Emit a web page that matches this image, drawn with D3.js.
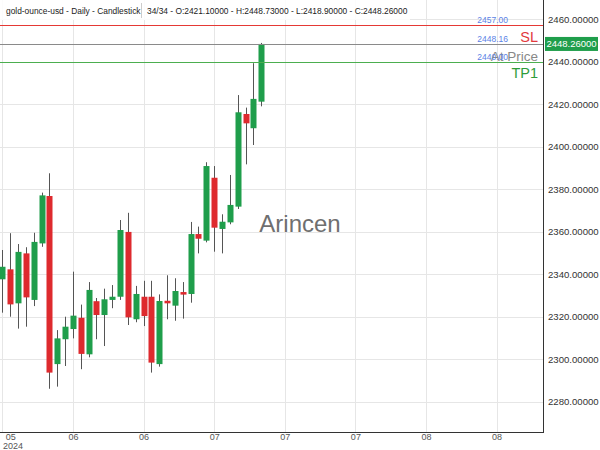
<!DOCTYPE html>
<html><head><meta charset="utf-8">
<script src="https://cdn.jsdelivr.net/npm/d3@7"></script>
<style>
html,body{margin:0;padding:0;background:#fff;}
svg{display:block;font-family:"Liberation Sans",Arial,sans-serif;}
</style></head>
<body><svg id="c" width="600" height="450"></svg>
<script>
const opens  = [2337.5,2342.2,2326.2,2349.7,2327.8,2354.4,2376.7,2297.6,2309.3,2314.1,2319.4,2302.2,2327.2,2320.7,2327.8,2329.3,2359.8,2318.7,2329.3,2329.3,2297.6,2327.4,2325.1,2331.5,2330.6,2358.8,2355.7,2385.3,2361.2,2364.3,2371.7,2415.3,2408.6,2421.1];
const highs  = [2351.3,2359.2,2354.1,2352.6,2359.4,2378.3,2387.4,2313.6,2319.9,2341.1,2325.6,2336.2,2328.7,2333.1,2334.8,2365.4,2368.8,2334.4,2336.8,2336.8,2330.4,2339.4,2338.0,2336.2,2364.5,2362.3,2392.6,2390.8,2368.1,2386.6,2424.2,2418.3,2439.2,2448.73];
const lows   = [2321.8,2319.9,2314.3,2315.2,2324.9,2352.8,2286.0,2287.0,2296.7,2309.7,2295.2,2300.8,2309.3,2306.1,2323.9,2327.8,2316.0,2317.3,2315.5,2293.6,2296.4,2318.7,2318.0,2319.0,2326.5,2349.7,2354.9,2350.5,2349.7,2363.4,2370.6,2391.6,2400.7,2418.9];
const closes = [2343.4,2325.7,2350.4,2329.0,2355.1,2377.0,2293.6,2309.7,2315.2,2320.4,2302.4,2332.5,2320.7,2328.1,2329.3,2360.7,2319.6,2330.6,2320.2,2298.3,2327.3,2326.2,2332.0,2330.3,2358.8,2356.6,2390.8,2361.8,2364.6,2372.5,2416.1,2410.9,2422.4,2448.26];
const xTickIndex  = [0,9,18,27,36,45,54,63];
const xTickLabels = ["05","06","06","07","07","07","08","08"];
const yearLabel = "2024";
const yTicks = [2280,2300,2320,2340,2360,2380,2400,2420,2440,2460];
const levelNames  = ["SL","At Price","TP1"];
const levelValues = [2457.00,2448.16,2440.00];
const lastPrice = 2448.26;
const title1 = "gold-ounce-usd - Daily - Candlestick";
const title2 = "34/34 - O:2421.10000 - H:2448.73000 - L:2418.90000 - C:2448.26000";
const watermark = "Arincen";

const data = opens.map((o,i)=>({i,o,h:highs[i],l:lows[i],c:closes[i]}));
const W = 543, H = 432;
const svg = d3.select("#c");
const x = d3.scaleLinear().domain([0,63]).range([2.3,496.6]);
const y = d3.scaleLinear().domain([2280,2460]).range([401.5,19]);

svg.append("defs").append("clipPath").attr("id","clip").append("rect").attr("x",0).attr("y",0).attr("width",W).attr("height",H);

// grid
const grid = svg.append("g").attr("clip-path","url(#clip)");
grid.selectAll("line.v").data(xTickIndex).join("line")
  .attr("x1",d=>Math.round(x(d))+0.5).attr("x2",d=>Math.round(x(d))+0.5).attr("y1",0).attr("y2",H)
  .attr("stroke","#e6e6e6").attr("stroke-width",1);
grid.selectAll("line.h").data(yTicks).join("line").attr("class","h")
  .attr("x1",0).attr("x2",W).attr("y1",d=>Math.round(y(d))+0.5).attr("y2",d=>Math.round(y(d))+0.5)
  .attr("stroke","#e6e6e6").attr("stroke-width",1);

// watermark
svg.append("text").attr("x",300).attr("y",232).attr("text-anchor","middle")
  .attr("font-size",24).attr("fill","#6f6f6f").text(watermark);

// candles
const green="#1f9e4b", red="#de2a2e";
const cg = svg.append("g").attr("clip-path","url(#clip)");
cg.selectAll("line.w").data(data).join("line")
  .attr("x1",d=>Math.round(x(d.i))+0.5).attr("x2",d=>Math.round(x(d.i))+0.5)
  .attr("y1",d=>y(d.h)).attr("y2",d=>y(d.l)).attr("stroke","#555").attr("stroke-width",1);
cg.selectAll("rect.b").data(data).join("rect")
  .attr("x",d=>Math.round(x(d.i))-2.5).attr("width",6)
  .attr("y",d=>y(Math.max(d.o,d.c)))
  .attr("height",d=>Math.max(1.5,Math.abs(y(d.o)-y(d.c))))
  .attr("fill",d=>d.c>=d.o?green:red);

// level lines
const lvlColors=["#e53935","#8a8a8a","#4cae4f"];
const lvlTextColors=["#e2393d","#888888","#2e9c3a"];
const lvlSizes=[14.5,13.5,14.5];
const lvlOffsets=[16.5,16.5,15.5];
const lg = svg.append("g");
levelValues.forEach((v,k)=>{
  const yy = Math.round(y(v))+0.5;
  lg.append("line").attr("x1",0).attr("x2",W).attr("y1",yy).attr("y2",yy)
    .attr("stroke",lvlColors[k]).attr("stroke-width",1);
  lg.append("text").attr("x",508).attr("y",yy-3).attr("text-anchor","end")
    .attr("font-size",8.5).attr("fill","#5b82e6").text(v.toFixed(2));
  lg.append("text").attr("x",538).attr("y",yy+lvlOffsets[k]).attr("text-anchor","end")
    .attr("font-size",lvlSizes[k]).attr("fill",lvlTextColors[k]).text(levelNames[k]);
});

// axes
const ya = svg.append("g").attr("transform",`translate(${W},0)`)
  .call(d3.axisRight(y).tickValues(yTicks).tickFormat(d3.format(".5f")).tickSize(0).tickPadding(5));
ya.select(".domain").remove();
ya.selectAll("text").attr("font-size",9.6).attr("fill","#333").attr("font-family","Liberation Sans,Arial,sans-serif");
svg.append("line").attr("x1",W+0.5).attr("x2",W+0.5).attr("y1",0).attr("y2",H).attr("stroke","#333");

const xa = svg.append("g").attr("transform",`translate(0,${H})`)
  .call(d3.axisBottom(x).tickValues(xTickIndex).tickFormat((d,i)=>xTickLabels[i]).tickSize(0).tickPadding(2));
xa.select(".domain").remove();
xa.selectAll("text").attr("font-size",9).attr("fill","#555").attr("font-family","Liberation Sans,Arial,sans-serif")
  .attr("dx",(d,i)=>i===0?8:0);
svg.append("line").attr("x1",0).attr("x2",W+1).attr("y1",H+0.5).attr("y2",H+0.5).attr("stroke","#333");
svg.append("text").attr("x",3).attr("y",449).attr("font-size",9).attr("fill","#555").text(yearLabel);

// price tag
const py = y(lastPrice);
svg.append("rect").attr("x",545).attr("y",py-7).attr("width",53).attr("height",14).attr("fill",green);
svg.append("text").attr("x",571.5).attr("y",py+3.5).attr("text-anchor","middle").attr("font-size",9.5)
  .attr("fill","#fff").text(lastPrice.toFixed(5));

// header
svg.append("rect").attr("x",0).attr("y",0).attr("width",410).attr("height",20).attr("fill","#fff").attr("fill-opacity",0.85);
svg.append("text").attr("x",6).attr("y",13.5).attr("font-size",8.4).attr("fill","#222").text(title1);
svg.append("line").attr("x1",141.5).attr("x2",141.5).attr("y1",3).attr("y2",18).attr("stroke","#ccc");
svg.append("text").attr("x",147).attr("y",13.5).attr("font-size",8.4).attr("fill","#222").text(title2);
</script></body></html>
